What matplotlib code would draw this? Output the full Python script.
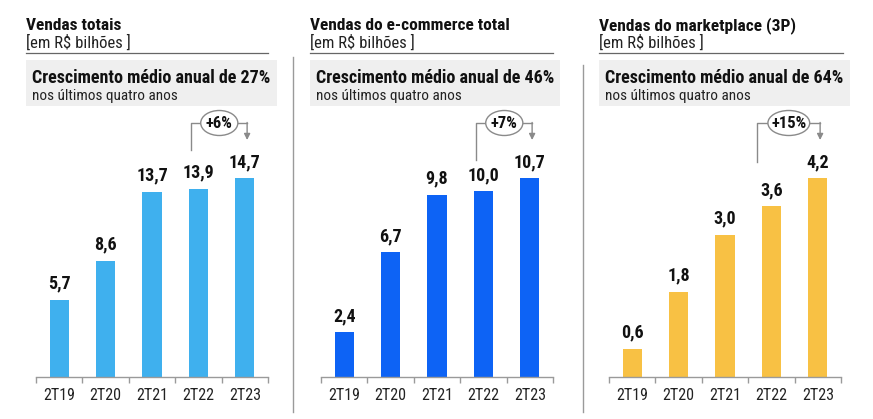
import matplotlib
matplotlib.use("Agg")
import matplotlib.pyplot as plt
from matplotlib import font_manager
from matplotlib.patches import Ellipse, Rectangle
from matplotlib.lines import Line2D
import matplotlib.transforms as mtransforms

# ---------------- data ----------------
categories = ["2T19", "2T20", "2T21", "2T22", "2T23"]
vendas_totais = [5.7, 8.6, 13.7, 13.9, 14.7]
vendas_ecommerce = [2.4, 6.7, 9.8, 10.0, 10.7]
vendas_marketplace = [0.6, 1.8, 3.0, 3.6, 4.2]
titles = ["Vendas totais", "Vendas do e-commerce total", "Vendas do marketplace (3P)"]
unit_label = "[em R$ bilhões ]"
growth_text = ["Crescimento médio anual de 27%", "Crescimento médio anual de 46%",
               "Crescimento médio anual de 64%"]
growth_sub = "nos últimos quatro anos"
yoy_labels = ["+6%", "+7%", "+15%"]
series = [vendas_totais, vendas_ecommerce, vendas_marketplace]
colors = ["#3FB0EE", "#0D63F5", "#F8C144"]

# ---------------- fonts ----------------
avail = {f.name for f in font_manager.fontManager.ttflist}
pref = ["Liberation Sans Narrow", "Arial Narrow", "Roboto Condensed", "PT Sans Narrow",
        "Archivo Narrow", "Liberation Sans", "DejaVu Sans"]
fam = [f for f in pref if f in avail][:1] + ["DejaVu Sans"]
plt.rcParams["font.family"] = fam

W, H = 873, 419
fig = plt.figure(figsize=(W / 100, H / 100), dpi=100)

def fx(x):
    return x / W

def fy(y):
    return 1 - y / H

# panel layout in pixels
ax_left = [36, 321, 609]
ax_width = 232
ax_bottom = 377
ax_top = 110
head_x = [26, 310, 599]
head_right = [268, 553, 843]
box_right = [277, 560, 850]
line_bottom_px = [150, 160, 162]

for i in range(3):
    ax = fig.add_axes([fx(ax_left[i]), fy(ax_bottom), ax_width / W, (ax_bottom - ax_top) / H])
    vals = series[i]
    xs = list(range(len(categories)))
    ax.bar(xs, vals, width=0.41, color=colors[i], zorder=2)
    ymax = max(vals) * (ax_bottom - ax_top) / 199.0
    ax.set_ylim(0, ymax)
    ax.set_xlim(-0.5, len(categories) - 0.5)
    for s in ["top", "left", "right"]:
        ax.spines[s].set_visible(False)
    ax.spines["bottom"].set_color("#9a9a9a")
    ax.spines["bottom"].set_linewidth(1)
    ax.set_yticks([])
    ax.set_xticks([x - 0.5 for x in range(len(categories) + 1)])
    ax.set_xticklabels([])
    ax.tick_params(axis="x", which="major", length=4, color="#9a9a9a", width=1)
    ax.set_xticks(xs, minor=True)
    ax.set_xticklabels(categories, minor=True, fontsize=11.5, color="#222222")
    ax.tick_params(axis="x", which="minor", length=0, pad=8)
    ax.patch.set_alpha(0)
    for x, v in zip(xs, vals):
        ax.annotate(f"{v:.1f}".replace(".", ","), (x, v), xytext=(0, 5),
                    textcoords="offset points", ha="center", va="bottom",
                    fontsize=13, fontweight="bold", color="#111111")

    # yoy bracket annotation
    tr = mtransforms.blended_transform_factory(ax.transData, ax.transAxes)
    def ay(ypx):
        return (ax_bottom - ypx) / (ax_bottom - ax_top)
    xl = 3 - 0.15 - (0.15 if i == 2 else 0)
    xr = 4 + 0.05
    xc = (xl + xr) / 2
    yh = ay(123)
    ew = (0.80 if i < 2 else 0.90)
    eh = 25 / (ax_bottom - ax_top)
    gray = "#8a8a8a"
    ax.add_line(Line2D([xl, xl, xc - ew / 2], [ay(line_bottom_px[i]), yh, yh],
                       transform=tr, color=gray, lw=1, clip_on=False))
    ax.add_line(Line2D([xc + ew / 2, xr], [yh, yh], transform=tr, color=gray, lw=1,
                       clip_on=False))
    ax.annotate("", xy=(xr, ay(140)), xytext=(xr, yh + 0.002), xycoords=tr, textcoords=tr,
                arrowprops=dict(arrowstyle="-|>", color=gray, lw=1, mutation_scale=9,
                                shrinkA=0, shrinkB=0), annotation_clip=False)
    ax.add_patch(Ellipse((xc, yh), ew, eh, transform=tr, facecolor="white",
                         edgecolor=gray, lw=1, clip_on=False, zorder=3))
    ax.text(xc, yh, yoy_labels[i], transform=tr, ha="center", va="center",
            fontsize=12, fontweight="bold", color="#111111", zorder=4)

    # header
    fig.text(fx(head_x[i]), fy(30), titles[i], fontsize=12.5, fontweight="bold",
             color="#111111", va="baseline", ha="left")
    fig.text(fx(head_x[i]), fy(48), unit_label, fontsize=12, color="#222222",
             va="baseline", ha="left")
    fig.add_artist(Line2D([fx(head_x[i]), fx(head_right[i])], [fy(53), fy(53)],
                          color="#666666", lw=0.9))
    fig.add_artist(Rectangle((fx(head_x[i]), fy(106)), fx(box_right[i] - head_x[i]),
                             (106 - 60) / H, facecolor="#EFEFEF", edgecolor="none",
                             zorder=0))
    fig.text(fx(head_x[i] + 6), fy(83), growth_text[i], fontsize=13, fontweight="bold",
             color="#111111", va="baseline", ha="left")
    fig.text(fx(head_x[i] + 6), fy(100), growth_sub, fontsize=11, color="#222222",
             va="baseline", ha="left")

# separators
fig.add_artist(Line2D([fx(293), fx(293)], [fy(57), fy(412)], color="#9a9a9a", lw=1))
fig.add_artist(Line2D([fx(583), fx(583)], [fy(65), fy(412)], color="#9a9a9a", lw=1))

fig.savefig("out.png", dpi=100)
